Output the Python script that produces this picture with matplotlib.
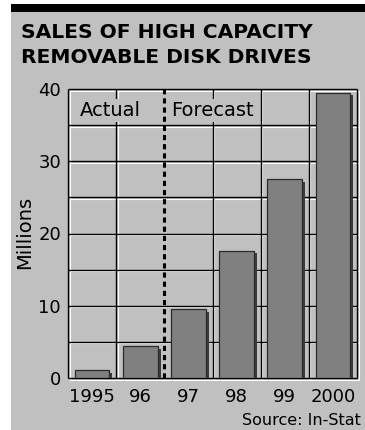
import matplotlib
matplotlib.use("Agg")
import matplotlib.pyplot as plt
from matplotlib.patches import Rectangle
from matplotlib.transforms import ScaledTranslation

years = ["1995", "96", "97", "98", "99", "2000"]
sales = [1.1, 4.4, 9.5, 17.6, 27.5, 39.5]   # millions of units
yticks = [0, 10, 20, 30, 40]
grid_y = [5, 10, 15, 20, 25, 30, 35]
forecast_start = 1.5

PANEL = "#c0c0c0"
BAR = "#808080"
SHADOW = "#3a3a3a"
FONT = "DejaVu Sans"

W, H = 365, 430
fig = plt.figure(figsize=(W / 100, H / 100), dpi=100)
fig.patch.set_facecolor("white")

# grey card with a black rule along the top
fig.add_artist(Rectangle((11 / W, 0), 1 - 11 / W, 1 - 4 / H, transform=fig.transFigure,
                         facecolor=PANEL, edgecolor="none", zorder=0))
fig.add_artist(Rectangle((11 / W, 1 - 12 / H), 1 - 11 / W, 8 / H, transform=fig.transFigure,
                         facecolor="black", edgecolor="none", zorder=1))

fig.text(21 / W, 1 - 38 / H, "SALES OF HIGH CAPACITY", fontsize=14.6, fontweight="bold",
         family=FONT, va="baseline", ha="left")
fig.text(21 / W, 1 - 63 / H, "REMOVABLE DISK DRIVES", fontsize=14.6, fontweight="bold",
         family=FONT, va="baseline", ha="left")

ax = fig.add_axes([68 / W, 52 / H, 289 / W, 289 / H])
ax.set_facecolor(PANEL)
ax.set_xlim(-0.5, len(years) - 0.5)
ax.set_ylim(0, 40)
for s in ax.spines.values():
    s.set_visible(False)

# embossed lines: white highlight shifted right/down, black line on top
hi = ax.transData + ScaledTranslation(1.6 / 100, -1.6 / 100, fig.dpi_scale_trans)
sh = ax.transData + ScaledTranslation(3 / 100, -2.5 / 100, fig.dpi_scale_trans)

def emboss(xs, ys):
    ax.plot(xs, ys, color="white", lw=0.8, transform=hi, zorder=1, clip_on=False,
            solid_capstyle="butt")
    ax.plot(xs, ys, color="black", lw=1.0, zorder=2, clip_on=False, solid_capstyle="butt")

x0, x1 = ax.get_xlim()
for gy in grid_y:
    emboss([x0, x1], [gy, gy])
for gx in [i + 0.5 for i in range(len(years) - 1)]:
    if gx != forecast_start:
        emboss([gx, gx], [0, 40])
# frame
emboss([x0, x1], [0, 0])
emboss([x0, x1], [40, 40])
emboss([x0, x0], [0, 40])
emboss([x1, x1], [0, 40])

xs = range(len(years))
ax.bar(xs, sales, width=0.72, color=SHADOW, edgecolor="none", transform=sh, zorder=3)
ax.bar(xs, sales, width=0.72, color=BAR, edgecolor="#2a2a2a", linewidth=0.9, zorder=4)

ax.plot([forecast_start, forecast_start], [0, 40], color="black", lw=2.2,
        linestyle=(0, (1.7, 1.3)), zorder=5)

box = dict(facecolor=PANEL, edgecolor="none", pad=1.5)
ax.text(-0.26, 36.3, "Actual", fontsize=14, family=FONT, ha="left", va="baseline",
        bbox=box, zorder=6)
ax.text(1.65, 36.3, "Forecast", fontsize=14, family=FONT, ha="left", va="baseline",
        bbox=box, zorder=6)

ax.set_xticks(list(xs))
ax.set_xticklabels(years, fontsize=13, family=FONT)
ax.set_yticks(yticks)
ax.set_yticklabels([str(v) for v in yticks], fontsize=13, family=FONT)
ax.tick_params(length=0)
ax.tick_params(axis="y", pad=5)
ax.tick_params(axis="x", pad=7)

fig.text(25 / W, 1 - 232 / H, "Millions", fontsize=14, family=FONT, rotation=90,
         ha="center", va="center")
fig.text(361 / W, 1 - 425 / H, "Source: In-Stat", fontsize=11.5, family=FONT,
         ha="right", va="baseline")

fig.savefig("out.png", dpi=100, facecolor=fig.get_facecolor())
